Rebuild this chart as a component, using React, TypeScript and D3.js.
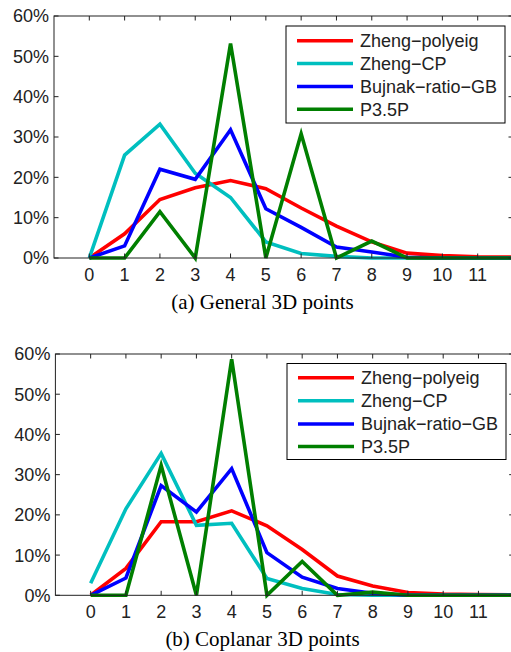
import * as d3 from 'd3';

// x positions (number of ... per case) and series values in percent
const xs = [0, 1, 2, 3, 4, 5, 6, 7, 8, 9, 10, 11, 12];
const xTicks = [0, 1, 2, 3, 4, 5, 6, 7, 8, 9, 10, 11];
const yTicks = [0, 10, 20, 30, 40, 50, 60];
const seriesNames = ['Zheng\u2212polyeig', 'Zheng\u2212CP', 'Bujnak\u2212ratio\u2212GB', 'P3.5P'];
const seriesColors = ['#ff0000', '#00bfbf', '#0000ff', '#007f00'];

const polyeigA = [0, 6.0, 14.5, 17.4, 19.2, 17.2, 12.4, 7.9, 4.0, 1.2, 0.6, 0.3, 0.2];
const cpA = [0, 25.5, 33.2, 21.0, 15.0, 4.0, 1.1, 0.4, 0, 0, 0, 0, 0];
const bujnakA = [0, 3.0, 22.0, 19.5, 31.8, 12.2, 7.6, 2.7, 1.5, 0.2, 0, 0, 0];
const p35pA = [0, 0, 11.5, 0, 53.2, 0, 30.8, 0, 4.2, 0, 0, 0, 0];

const polyeigB = [0, 6.7, 18.3, 18.3, 21.0, 17.3, 11.4, 4.8, 2.3, 0.7, 0.3, 0.2, 0.1];
const cpB = [3.0, 21.5, 35.3, 17.4, 17.9, 4.2, 1.7, 0.2, 0, 0, 0, 0, 0];
const bujnakB = [0, 4.3, 27.3, 20.7, 31.5, 10.6, 4.5, 1.7, 0.5, 0, 0, 0, 0];
const p35pB = [0, 0, 32.3, 0, 58.7, 0, 8.4, 0, 0.8, 0, 0, 0, 0];

const sans = '"Liberation Sans", Arial, sans-serif';
const serif = '"Liberation Serif", "Times New Roman", serif';
const ink = '#222';

type PanelProps = {
  left: number;
  right: number;
  top: number;
  bottom: number;
  series: number[][];
  caption: string;
  legend: { x: number; y: number; w: number; h: number; rows: number[] };
};

const Panel = ({ left, right, top, bottom, series, caption, legend }: PanelProps) => {
  const x = d3.scaleLinear().domain([-1, 12]).range([left, right]);
  const y = d3.scaleLinear().domain([0, 60]).range([bottom, top]);
  const line = d3
    .line<number>()
    .x((_, i) => x(xs[i]))
    .y((d) => y(d));
  const tk = 4.5;

  return (
    <g>
      {series.map((s, i) => (
        <path
          key={i}
          d={line(s) || ''}
          fill="none"
          stroke={seriesColors[i]}
          strokeWidth={3.6}
          strokeLinejoin="miter"
        />
      ))}
      <rect x={left} y={top} width={right - left} height={bottom - top} fill="none" stroke={ink} strokeWidth={1} />
      {xTicks.map((t) => (
        <g key={'x' + t}>
          <line x1={x(t)} x2={x(t)} y1={bottom} y2={bottom - tk} stroke={ink} />
          <line x1={x(t)} x2={x(t)} y1={top} y2={top + tk} stroke={ink} />
          <text
            x={x(t)}
            y={bottom + 23}
            textAnchor="middle"
            fontFamily={sans}
            fontSize={18}
            fill={ink}
          >
            {t}
          </text>
        </g>
      ))}
      {yTicks.map((t) => (
        <g key={'y' + t}>
          <line x1={left} x2={left + tk} y1={y(t)} y2={y(t)} stroke={ink} />
          <line x1={right} x2={right - tk} y1={y(t)} y2={y(t)} stroke={ink} />
          <text
            x={left - 5}
            y={y(t)}
            dy="0.36em"
            textAnchor="end"
            fontFamily={sans}
            fontSize={18}
            fill={ink}
          >
            {t + '%'}
          </text>
        </g>
      ))}
      <rect x={legend.x} y={legend.y} width={legend.w} height={legend.h} fill="#fff" stroke="#000" strokeWidth={1} />
      {seriesNames.map((n, i) => (
        <g key={n}>
          <line
            x1={legend.x + 11}
            x2={legend.x + 67}
            y1={legend.rows[i]}
            y2={legend.rows[i]}
            stroke={seriesColors[i]}
            strokeWidth={3.6}
          />
          <text
            x={legend.x + 74}
            y={legend.rows[i]}
            dy="0.36em"
            fontFamily={sans}
            fontSize={18}
            fill={ink}
          >
            {n}
          </text>
        </g>
      ))}
      <text
        x={262.5}
        y={bottom + 51}
        textAnchor="middle"
        fontFamily={serif}
        fontSize={21}
        fill="#000"
      >
        {caption}
      </text>
    </g>
  );
};

export default function App() {
  return (
    <svg
      width={511}
      height={652}
      style={{ position: 'absolute', left: 0, top: 0, background: '#fff' }}
    >
      <rect width={511} height={652} fill="#fff" />
      <Panel
        left={54}
        right={513}
        top={16}
        bottom={258}
        series={[polyeigA, cpA, bujnakA, p35pA]}
        caption="(a) General 3D points"
        legend={{ x: 286, y: 26, w: 219, h: 97, rows: [40.7, 63.5, 86.5, 109.3] }}
      />
      <Panel
        left={55.4}
        right={513.7}
        top={354}
        bottom={595.3}
        series={[polyeigB, cpB, bujnakB, p35pB]}
        caption="(b) Coplanar 3D points"
        legend={{ x: 287, y: 363.5, w: 219, h: 96, rows: [377.7, 400.7, 424, 446.5] }}
      />
    </svg>
  );
}
